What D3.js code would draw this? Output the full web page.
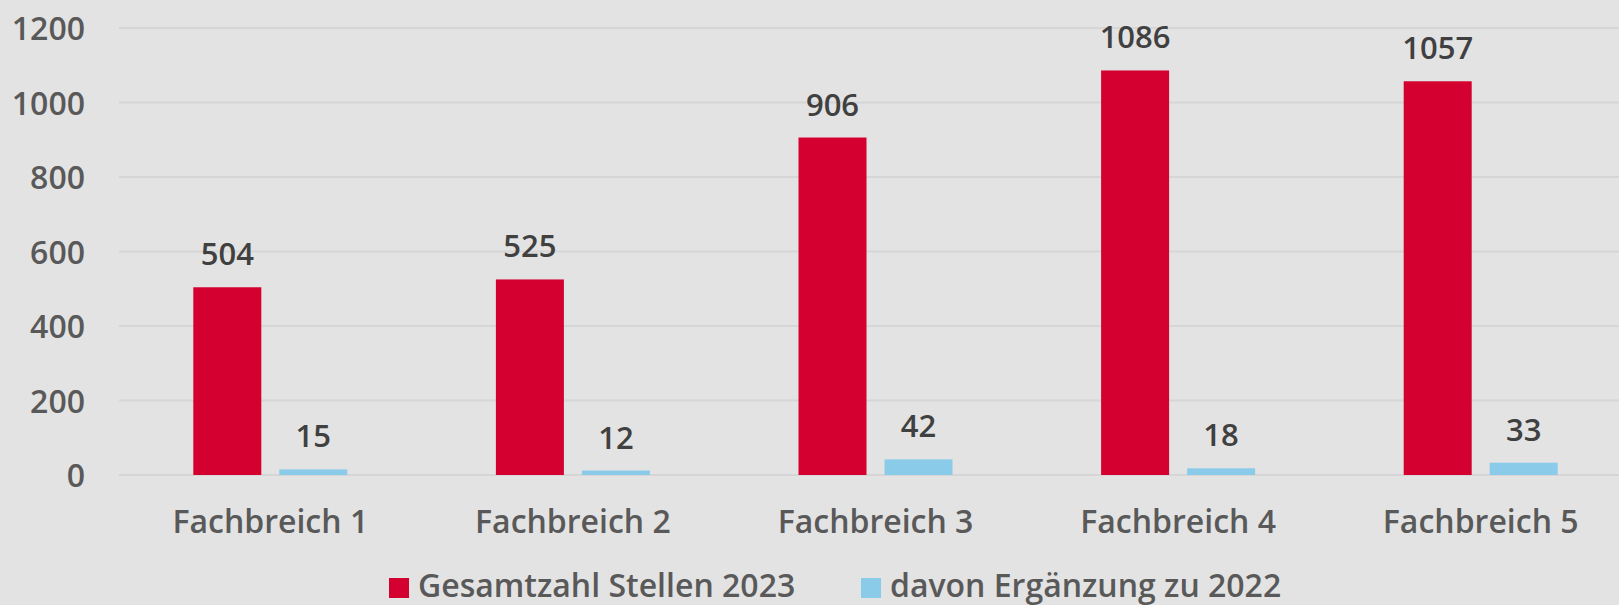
<!DOCTYPE html>
<html lang="de">
<head>
<meta charset="UTF-8">
<title>Stellen je Fachbereich</title>
<script src="https://d3js.org/d3.v7.min.js"></script>
<style>
  html, body { margin: 0; padding: 0; background: #e3e3e3; }
  svg { display: block; font-family: "Open Sans", sans-serif; font-weight: 600; }
</style>
</head>
<body>
<div id="chart"></div>
<script>
// data
const categories = ["Fachbreich 1", "Fachbreich 2", "Fachbreich 3", "Fachbreich 4", "Fachbreich 5"];
const seriesNames = ["Gesamtzahl Stellen 2023", "davon Ergänzung zu 2022"];
const total2023 = [504, 525, 906, 1086, 1057];
const added2022 = [15, 12, 42, 18, 33];
const yTicks = [0, 200, 400, 600, 800, 1000, 1200];
const colors = ["#d4002f", "#8bcbea"];

const width = 1619, height = 605;
const plotLeft = 119, plotRight = 1632;
const yTop = 28, yBottom = 475;

const table = categories.map((c, i) => ({ cat: c, values: [total2023[i], added2022[i]] }));

const svg = d3.select("#chart").append("svg")
    .attr("width", width)
    .attr("height", height);

svg.append("rect").attr("width", width).attr("height", height).attr("fill", "#e3e3e3");

const x = d3.scaleBand().domain(categories).range([plotLeft, plotRight]);
const y = d3.scaleLinear().domain([0, 1200]).range([yBottom, yTop]);

// bar width 68, gap 18 inside each group
const barW = 68, gap = 18;
const x1 = d3.scaleOrdinal().domain([0, 1]).range([-(barW + gap / 2), gap / 2]);

// gridlines
svg.append("g")
    .selectAll("line")
    .data(yTicks)
    .join("line")
    .attr("x1", plotLeft)
    .attr("x2", width)
    .attr("y1", d => y(d))
    .attr("y2", d => y(d))
    .attr("stroke", "#d6d6d6")
    .attr("stroke-width", 2);

// y axis labels
const yAxis = d3.axisLeft(y).tickValues(yTicks).tickFormat(d3.format("d")).tickSize(0).tickPadding(0);
svg.append("g")
    .attr("transform", `translate(85,0)`)
    .call(yAxis)
    .call(g => g.select(".domain").remove())
    .call(g => g.selectAll("text")
        .attr("fill", "#595959")
        .attr("font-size", 32)
        .attr("font-family", "Open Sans, sans-serif")
        .attr("font-weight", 600)
        .attr("dy", "0.36em"));

// bars
const groups = svg.append("g")
    .selectAll("g")
    .data(table)
    .join("g")
    .attr("transform", d => `translate(${x(d.cat) + x.bandwidth() / 2},0)`);

groups.selectAll("rect")
    .data(d => d.values.map((v, k) => ({ v, k })))
    .join("rect")
    .attr("x", d => x1(d.k))
    .attr("width", barW)
    .attr("y", d => y(d.v))
    .attr("height", d => y(0) - y(d.v))
    .attr("fill", d => colors[d.k]);

// value labels
groups.selectAll("text")
    .data(d => d.values.map((v, k) => ({ v, k })))
    .join("text")
    .attr("x", d => x1(d.k) + barW / 2)
    .attr("y", d => y(d.v) - 22)
    .attr("text-anchor", "middle")
    .attr("font-size", 31)
    .attr("fill", "#404040")
    .text(d => d.v);

// category labels
const xAxis = d3.axisBottom(x).tickSize(0).tickPadding(0);
svg.append("g")
    .attr("transform", `translate(0,533)`)
    .call(xAxis)
    .call(g => g.select(".domain").remove())
    .call(g => g.selectAll("text")
        .attr("fill", "#595959")
        .attr("font-size", 32)
        .attr("font-family", "Open Sans, sans-serif")
        .attr("font-weight", 600)
        .attr("dy", 0));

// legend
const legendX = [389, 861];
const legend = svg.append("g")
    .selectAll("g")
    .data(seriesNames)
    .join("g")
    .attr("transform", (d, i) => `translate(${legendX[i]},578)`);

legend.append("rect")
    .attr("width", 20)
    .attr("height", 20)
    .attr("fill", (d, i) => colors[i]);

legend.append("text")
    .attr("x", 29)
    .attr("y", 19)
    .attr("font-size", 32)
    .attr("fill", "#595959")
    .text(d => d);
</script>
</body>
</html>
